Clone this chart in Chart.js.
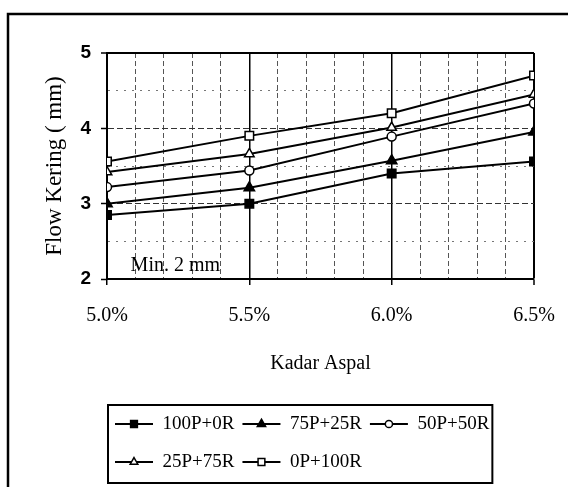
<!DOCTYPE html>
<html>
<head>
<meta charset="utf-8">
<script src="https://cdn.jsdelivr.net/npm/chart.js"></script>
<style>
  body { margin: 0; background: #fff; }
  canvas { display: block; }
</style>
</head>
<body>
<canvas id="flowChart" width="568" height="487"></canvas>
<script>
// asphalt content (%) on the x axis
var kadarAspal = [5.0, 5.5, 6.0, 6.5];

// flow (mm) for each mix
var mixLabels = ["100P+0R", "75P+25R", "50P+50R", "25P+75R", "0P+100R"];
var flow100P0R = [2.85, 3.00, 3.40, 3.56];
var flow75P25R = [3.00, 3.21, 3.57, 3.95];
var flow50P50R = [3.22, 3.44, 3.89, 4.33];
var flow25P75R = [3.42, 3.66, 4.01, 4.45];
var flow0P100R = [3.56, 3.90, 4.20, 4.70];

var minFlow = 2;

var serif = "'Liberation Serif', 'Times New Roman', serif";

function toPoints(values) {
  return values.map(function(v, i) { return { x: kadarAspal[i], y: v }; });
}

function isStep(v, step) {
  return Math.abs(v / step - Math.round(v / step)) < 1e-6;
}

function series(label, values, style, fill, radius) {
  return {
    label: label,
    data: toPoints(values),
    borderColor: '#000',
    borderWidth: 2,
    tension: 0,
    pointStyle: style,
    pointRadius: radius,
    pointHoverRadius: radius,
    pointBackgroundColor: fill,
    pointBorderColor: '#000',
    pointBorderWidth: 1.5
  };
}

// outer frame of the figure
var framePlugin = {
  id: 'frame',
  beforeDraw: function(chart) {
    var ctx = chart.ctx;
    ctx.save();
    ctx.fillStyle = '#fff';
    ctx.fillRect(0, 0, chart.width, chart.height);
    ctx.strokeStyle = '#000';
    ctx.lineWidth = 2.5;
    ctx.beginPath();
    ctx.moveTo(8, chart.height);
    ctx.lineTo(8, 14);
    ctx.lineTo(chart.width, 14);
    ctx.stroke();
    ctx.restore();
  }
};

// "Min. 2 mm" note inside the plot
var minNotePlugin = {
  id: 'minNote',
  afterDatasetsDraw: function(chart) {
    var ctx = chart.ctx;
    var xs = chart.scales.x, ys = chart.scales.y;
    ctx.save();
    ctx.font = '20px ' + serif;
    ctx.fillStyle = '#000';
    ctx.textAlign = 'center';
    ctx.textBaseline = 'middle';
    ctx.fillText('Min. ' + minFlow + ' mm', xs.getPixelForValue(5.24), ys.getPixelForValue(minFlow + 0.18));
    ctx.restore();
  }
};

// line+marker keys and the box around the legend
var legendKeysPlugin = {
  id: 'legendKeys',
  afterDraw: function(chart) {
    var lg = chart.legend;
    if (!lg || !lg.legendHitBoxes.length) return;
    var ctx = chart.ctx;
    var bw = lg.options.labels.boxWidth;
    var left = Infinity, right = 0, top = Infinity, bottom = 0;
    lg.legendHitBoxes.forEach(function(hb, i) {
      var ds = chart.data.datasets[lg.legendItems[i].datasetIndex];
      var cy = hb.top + hb.height / 2;
      ctx.save();
      ctx.strokeStyle = '#000';
      ctx.lineWidth = 2;
      ctx.beginPath();
      ctx.moveTo(hb.left, cy);
      ctx.lineTo(hb.left + bw, cy);
      ctx.stroke();
      ctx.fillStyle = ds.pointBackgroundColor;
      ctx.lineWidth = ds.pointBorderWidth;
      Chart.helpers.drawPoint(ctx, {
        pointStyle: ds.pointStyle,
        radius: ds.pointRadius * 0.8,
        rotation: 0,
        borderWidth: ds.pointBorderWidth
      }, hb.left + bw / 2, cy);
      ctx.restore();
      left = Math.min(left, hb.left);
      right = Math.max(right, hb.left + hb.width);
      top = Math.min(top, hb.top);
      bottom = Math.max(bottom, hb.top + hb.height);
    });
    ctx.save();
    ctx.strokeStyle = '#000';
    ctx.lineWidth = 2;
    ctx.strokeRect(left - 7, top - 4, right - left + 10, bottom - top + 10);
    ctx.restore();
  }
};

Chart.defaults.color = '#000';

var ctx = document.getElementById('flowChart');
var flowChart = new Chart(ctx, {
  type: 'line',
  data: {
    datasets: [
      series(mixLabels[0], flow100P0R, 'rect', '#000', 6),
      series(mixLabels[1], flow75P25R, 'triangle', '#000', 6),
      series(mixLabels[2], flow50P50R, 'circle', '#fff', 4.5),
      series(mixLabels[3], flow25P75R, 'triangle', '#fff', 5.5),
      series(mixLabels[4], flow0P100R, 'rect', '#fff', 6)
    ]
  },
  options: {
    responsive: false,
    animation: false,
    events: [],
    layout: { autoPadding: false, padding: { left: 39, right: 34, top: 53, bottom: 0 } },
    plugins: {
      tooltip: { enabled: false },
      legend: {
        position: 'bottom',
        align: 'start',
        fullSize: false,
        labels: {
          boxWidth: 38,
          boxHeight: 30,
          padding: 8,
          color: '#000',
          font: { family: serif, size: 19 },
          generateLabels: function(chart) {
            return Chart.defaults.plugins.legend.labels.generateLabels(chart).map(function(item) {
              item.fillStyle = 'rgba(0,0,0,0)';
              item.strokeStyle = 'rgba(0,0,0,0)';
              item.lineWidth = 0;
              return item;
            });
          }
        }
      }
    },
    scales: {
      x: {
        type: 'linear',
        min: 5.0,
        max: 6.5,
        afterFit: function(scale) {
          scale.height = 122;
          scale.paddingLeft = 0;
          scale.paddingRight = 0;
        },
        ticks: {
          stepSize: 0.1,
          autoSkip: false,
          maxRotation: 0,
          padding: 19,
          font: { family: serif, size: 20 },
          callback: function(v) { return isStep(v, 0.5) ? v.toFixed(1) + '%' : ''; }
        },
        grid: {
          tickLength: 6,
          tickWidth: 1.5,
          tickColor: function(c) { return c.tick && isStep(c.tick.value, 0.5) ? '#000' : 'rgba(0,0,0,0)'; },
          color: function(c) { return c.tick && isStep(c.tick.value, 0.5) ? '#000' : '#555'; },
          lineWidth: function(c) {
            if (!c.tick) return 1;
            if (Math.abs(c.tick.value - 6.5) < 1e-6) return 2;
            return isStep(c.tick.value, 0.5) ? 1.5 : 1;
          }
        },
        border: {
          color: '#000',
          width: 2,
          dash: function(c) { return c.tick && !isStep(c.tick.value, 0.5) ? [5, 3] : []; }
        },
        title: {
          display: true,
          text: 'Kadar Aspal',
          font: { family: serif, size: 20 },
          padding: { top: 10, bottom: 25 }
        }
      },
      y: {
        min: 2,
        max: 5,
        afterFit: function(scale) { scale.width = 68; },
        ticks: {
          stepSize: 0.5,
          autoSkip: false,
          padding: 10,
          font: { family: "'Liberation Sans', Arial, sans-serif", size: 19, weight: 'bold' },
          callback: function(v) { return isStep(v, 1) ? String(v) : ''; }
        },
        grid: {
          tickLength: 6,
          tickWidth: 1.5,
          tickColor: function(c) { return c.tick && isStep(c.tick.value, 1) ? '#000' : 'rgba(0,0,0,0)'; },
          color: function(c) {
            if (!c.tick) return '#000';
            if (c.tick.value === 5) return '#000';
            return isStep(c.tick.value, 1) ? '#333' : '#777';
          },
          lineWidth: function(c) { return c.tick && c.tick.value === 5 ? 2 : 1; }
        },
        border: {
          color: '#000',
          width: 2,
          dash: function(c) {
            if (!c.tick || c.tick.value === 5) return [];
            return isStep(c.tick.value, 1) ? [6, 3] : [2, 6];
          }
        },
        title: {
          display: true,
          text: 'Flow Kering ( mm)',
          font: { family: serif, size: 23 },
          padding: { top: 2, bottom: 10 }
        }
      }
    }
  },
  plugins: [framePlugin, minNotePlugin, legendKeysPlugin]
});
</script>
</body>
</html>
